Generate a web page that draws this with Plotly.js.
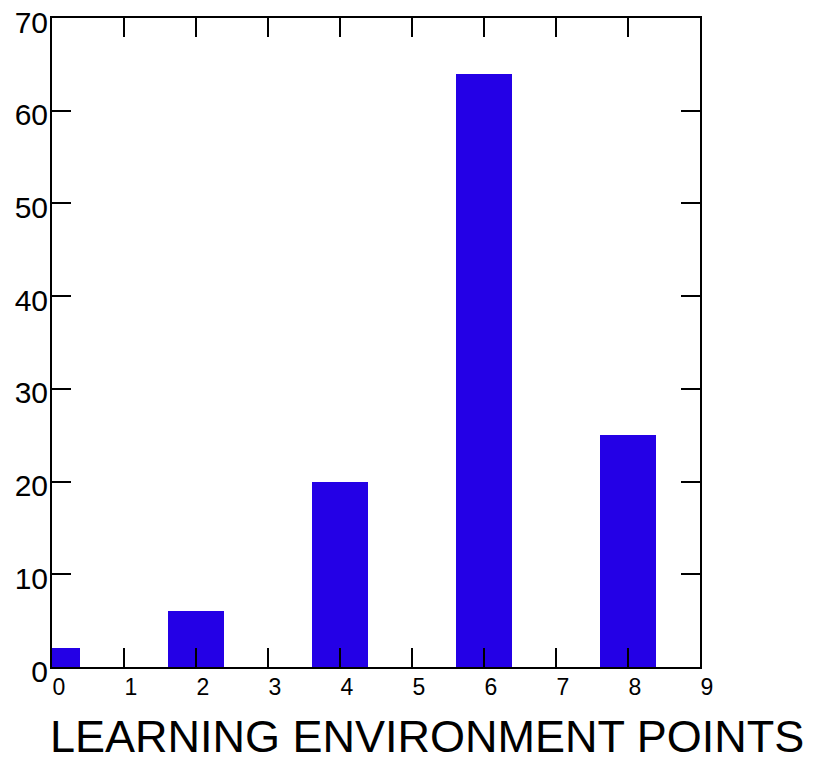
<!DOCTYPE html>
<html>
<head>
<meta charset="utf-8">
<script src="https://cdn.plot.ly/plotly-3.0.1.min.js"></script>
<style>html,body{margin:0;padding:0;background:#fff;}#chart{width:815px;height:761px;}</style>
</head>
<body>
<div id="chart"></div>
<script>
const points = [0, 2, 4, 6, 8];
const counts = [2, 6, 20, 64, 25];
const xTicks = [0, 1, 2, 3, 4, 5, 6, 7, 8, 9];
const yTicks = [0, 10, 20, 30, 40, 50, 60, 70];
const xTitle = 'LEARNING ENVIRONMENT POINTS';

const trace = {
  type: 'bar',
  x: points,
  y: counts,
  width: 0.78,
  marker: {color: '#2400E6', line: {width: 0}},
  hoverinfo: 'x+y'
};

const axisCommon = {
  showgrid: false,
  zeroline: false,
  showline: true,
  linecolor: '#000',
  linewidth: 2,
  ticks: 'inside',
  ticklen: 19,
  tickwidth: 2,
  tickcolor: '#000',
  mirror: 'ticks'
};

const layout = {
  width: 815,
  height: 761,
  margin: {l: 52, r: 115, t: 18, b: 94},
  paper_bgcolor: '#fff',
  plot_bgcolor: '#fff',
  font: {family: 'Liberation Sans, Arial, sans-serif', color: '#000'},
  showlegend: false,
  bargap: 0,
  xaxis: Object.assign({}, axisCommon, {
    range: [0, 9],
    tickmode: 'array',
    tickvals: xTicks,
    ticktext: xTicks.map(String),
    tickfont: {size: 23, color: '#000'},
    ticklabelshift: 7,
    ticklabelstandoff: -2
  }),
  yaxis: Object.assign({}, axisCommon, {
    range: [0, 70.0001],
    tickmode: 'array',
    tickvals: yTicks,
    ticktext: yTicks.map(String),
    tickfont: {size: 30, color: '#000'},
    ticklabelshift: 4,
    ticklabelstandoff: -4,
    ticklabeloverflow: 'allow'
  }),
  annotations: [{
    text: xTitle,
    xref: 'paper', yref: 'paper',
    x: 1.1636, y: -0.064,
    xanchor: 'right', yanchor: 'top',
    showarrow: false,
    font: {size: 45, color: '#000', family: 'Liberation Sans, Arial, sans-serif'}
  }]
};

Plotly.newPlot('chart', [trace], layout, {staticPlot: true});
</script>
</body>
</html>
